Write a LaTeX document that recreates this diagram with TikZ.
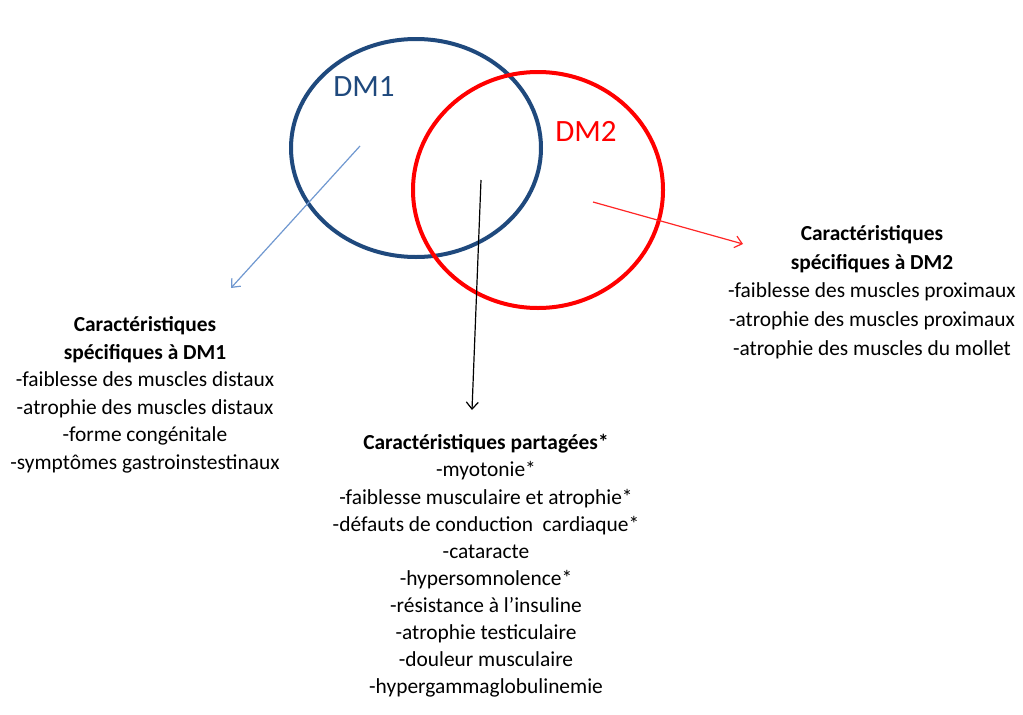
\documentclass[tikz,border=0pt]{standalone}
\usepackage{fontspec}
\setmainfont{Carlito}
\usetikzlibrary{arrows.meta}
\definecolor{dmblue}{RGB}{31,73,125}
\definecolor{dmred}{RGB}{255,0,0}
\definecolor{bluearrow}{RGB}{112,152,208}

\begin{document}
\begin{tikzpicture}[x=1pt,y=-1pt,
  venn/.style={line width=4pt},
  pointer/.style={line width=1.2pt,-{Straight Barb[length=7pt,width=12pt]}},
  block/.style={align=center,inner sep=0pt,font=\fontsize{21.4}{27.5}\selectfont},
  dmlabel/.style={inner sep=0pt,font=\fontsize{31}{36}\selectfont}]
\useasboundingbox (0,0) rectangle (1023,715);
% the two sets
\draw[venn,dmblue] (416,148) ellipse (125 and 109);
\draw[venn,dmred] (538,190) ellipse (125 and 118);
\node[dmlabel,text=dmblue] (dmone) at (364,87) {DM1};
\node[dmlabel,text=dmred] (dmtwo) at (586,131) {DM2};
% text blocks
\node[block] (specone) at (145,395) {\textbf{Caractéristiques}\\ \textbf{spécifiques à DM1}\\
  -faiblesse des muscles distaux\\ -atrophie des muscles distaux\\ -forme congénitale\\
  -symptômes gastroinstestinaux};
\node[block,font=\fontsize{21.4}{28.8}\selectfont] (spectwo) at (872,292) {\textbf{Caractéristiques}\\ \textbf{spécifiques à DM2}\\
  -faiblesse des muscles proximaux\\ -atrophie des muscles proximaux\\ -atrophie des muscles du mollet};
\node[block,font=\fontsize{21.4}{27.1}\selectfont] (shared) at (486,566) {\textbf{Caractéristiques partagées*}\\ -myotonie*\\
  -faiblesse musculaire et atrophie*\\ -défauts de conduction~ cardiaque*\\ -cataracte\\
  -hypersomnolence*\\ -résistance à l’insuline\\ -atrophie testiculaire\\ -douleur musculaire\\
  -hypergammaglobulinemie};
% pointers
\coordinate (fromone) at (360,146);
\coordinate (toone) at (231,288);
\coordinate (fromtwo) at (593,202);
\coordinate (totwo) at (743,244);
\coordinate (fromboth) at (481,180);
\coordinate (toboth) at (472,410);
\draw[pointer,bluearrow] (fromone) -- (toone);
\draw[pointer,dmred!85] (fromtwo) -- (totwo);
\draw[pointer,black] (fromboth) -- (toboth);
\end{tikzpicture}
\end{document}
